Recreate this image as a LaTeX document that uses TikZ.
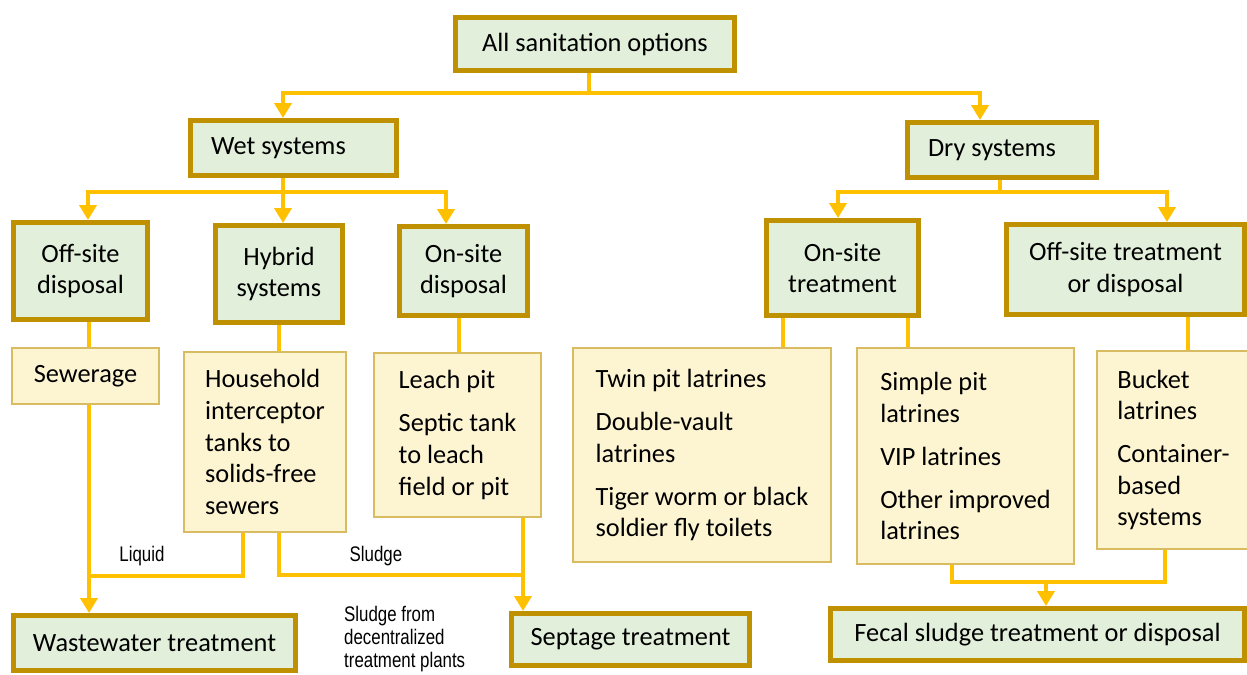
\documentclass[tikz,border=0pt]{standalone}
\usepackage{fontspec}
\setmainfont{Carlito}
\newfontfamily\notefont[FakeStretch=0.8]{Liberation Sans}
\usetikzlibrary{arrows.meta}
\definecolor{flowgold}{HTML}{FFC000}
\definecolor{boxgold}{HTML}{BF9000}
\definecolor{boxgreen}{HTML}{E2EFDA}
\definecolor{optyellow}{HTML}{FDF5D2}
\definecolor{optedge}{HTML}{D9BC62}

\begin{document}
\begin{tikzpicture}[x=0.02cm, y=-0.02cm,
    sysbox/.style={draw=boxgold, line width=0.1cm, fill=boxgreen, align=flush center, font=\fontsize{15}{18}\selectfont},
    optbox/.style={draw=optedge, line width=0.04cm, fill=optyellow, align=flush left, font=\fontsize{15}{18}\selectfont},
    flow/.style={flowgold, line width=0.08cm, -{Triangle[width=0.34cm, length=0.3cm]}},
    link/.style={flowgold, line width=0.08cm},
    note/.style={font=\notefont\fontsize{12}{13}\selectfont, align=flush left}]
    \useasboundingbox (0,0) rectangle (1247,675);

    % Caixas verdes
    \node[sysbox, minimum width=5.58cm, minimum height=1.06cm] (all) at (595,44) {All sanitation options};
    \node[sysbox, minimum width=4.12cm, minimum height=1.1cm, text width=3.3cm, align=flush left] (wet) at (293.5,148) {Wet systems};
    \node[sysbox, minimum width=3.78cm, minimum height=1.1cm, text width=2.96cm, align=flush left] (dry) at (1002,150) {Dry systems};
    \node[sysbox, minimum width=2.68cm, minimum height=1.94cm] (offdisp) at (80.5,271) {Off-site\\disposal};
    \node[sysbox, minimum width=2.54cm, minimum height=1.94cm] (hybrid) at (279,274) {Hybrid\\systems};
    \node[sysbox, minimum width=2.56cm, minimum height=1.78cm] (ondisp) at (463.5,271) {On-site\\disposal};
    \node[sysbox, minimum width=3.04cm, minimum height=1.9cm] (ontreat) at (842.5,268) {On-site\\treatment};
    \node[sysbox, minimum width=4.76cm, minimum height=1.8cm] (offtreat) at (1125.5,269.5) {Off-site treatment\\or disposal};

    % Caixas amarelas
    \node[optbox, minimum width=2.94cm, minimum height=1.12cm] (sewer) at (85.5,376) {Sewerage};
    \node[optbox, minimum width=3.24cm, minimum height=3.6cm] (household) at (265,442) {Household\\interceptor\\tanks to\\solids-free\\sewers};
    \node[optbox, minimum width=3.34cm, minimum height=3.28cm] (leach) at (457.5,435) {Leach pit\\[6.5pt]Septic tank\\to leach\\field or pit};
    \node[optbox, minimum width=5.16cm, minimum height=4.28cm] (twin) at (702,455) {Twin pit latrines\\[6.5pt]Double-vault\\latrines\\[6.5pt]Tiger worm or black\\soldier fly toilets};
    \node[optbox, minimum width=4.34cm, minimum height=4.32cm] (simple) at (965.5,456) {Simple pit\\latrines\\[6.5pt]VIP latrines\\[6.5pt]Other improved\\latrines};
    \node[optbox, minimum width=3.06cm, minimum height=3.96cm] (bucket) at (1173.5,450) {Bucket\\latrines\\[6.5pt]Container-\\based\\systems};

    % Destinos
    \node[sysbox, minimum width=5.64cm, minimum height=1.1cm] (waste) at (154.5,643) {Wastewater treatment};
    \node[sysbox, minimum width=4.76cm, minimum height=1.04cm] (septage) at (630.5,639.5) {Septage treatment};
    \node[sysbox, minimum width=8.28cm, minimum height=1.04cm] (fecal) at (1037.5,634.5) {Fecal sludge treatment or disposal};

    % Pontos de ramificação
    \coordinate (topfork) at (589,93);
    \coordinate (wetfork) at (283,93);
    \coordinate (dryfork) at (980,93);
    \coordinate (wetsplit) at (283,192);
    \coordinate (offx) at (88,192);
    \coordinate (onx) at (446,192);
    \coordinate (drysplit) at (1000,192);
    \coordinate (onty) at (838,192);
    \coordinate (offty) at (1167,192);

    % Setas de cima
    \draw[link] (all.south -| topfork) -- (topfork);
    \draw[flow] (topfork) -- (wetfork) -- (wetfork |- wet.north);
    \draw[flow] (topfork) -- (dryfork) -- (dryfork |- dry.north);
    \draw[link] (wet.south -| wetsplit) -- (wetsplit);
    \draw[flow] (wetsplit) -- (hybrid.north -| wetsplit);
    \draw[flow] (wetsplit) -- (offx) -- (offx |- offdisp.north);
    \draw[flow] (wetsplit) -- (onx) -- (onx |- ondisp.north);
    \draw[link] (dry.south -| drysplit) -- (drysplit);
    \draw[flow] (drysplit) -- (onty) -- (onty |- ontreat.north);
    \draw[flow] (drysplit) -- (offty) -- (offty |- offtreat.north);

    % Ligações para as opções
    \coordinate (sewx) at (89,576);
    \coordinate (liq) at (243,576);
    \coordinate (hybx) at (279,575);
    \coordinate (septx) at (523,575);
    \coordinate (leachx) at (459,340);
    \coordinate (twinx) at (783,340);
    \coordinate (simplex) at (908,340);
    \coordinate (bucketx) at (1188,340);
    \draw[link] (offdisp.south -| sewx) -- (sewer.north -| sewx);
    \draw[link] (hybrid.south -| hybx) -- (household.north -| hybx);
    \draw[link] (ondisp.south -| leachx) -- (leach.north -| leachx);
    \draw[link] (ontreat.south -| twinx) -- (twin.north -| twinx);
    \draw[link] (ontreat.south -| simplex) -- (simple.north -| simplex);
    \draw[link] (offtreat.south -| bucketx) -- (bucket.north -| bucketx);

    % Setas de baixo
    \draw[flow] (sewer.south -| sewx) -- (waste.north -| sewx);
    \draw[link] (household.south -| liq) -- (liq) -- (sewx);
    \draw[link] (household.south -| hybx) -- (hybx) -- (septx);
    \draw[flow] (leach.south -| septx) -- (septage.north -| septx);
    \coordinate (simplej) at (952,582);
    \coordinate (bucketj) at (1165,582);
    \coordinate (fecalx) at (1046,582);
    \draw[link] (simple.south -| simplej) -- (simplej) -- (bucketj) -- (bucket.south -| bucketj);
    \draw[flow] (fecalx) -- (fecal.north -| fecalx);

    % Rótulos
    \node[note] (liquid) at (142,556) {Liquid};
    \node[note] (sludge) at (376,556) {Sludge};
    \node[note, anchor=north west] (decent) at (338,600) {Sludge from\\decentralized\\treatment plants};
\end{tikzpicture}
\end{document}
